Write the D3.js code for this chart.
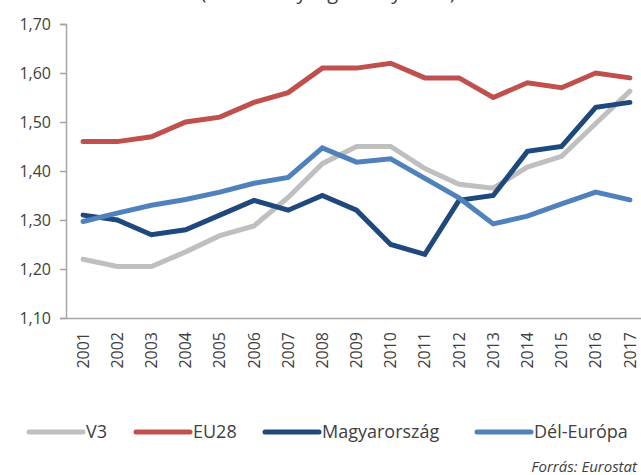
<!DOCTYPE html>
<html>
<head>
<meta charset="utf-8">
<script src="https://cdn.jsdelivr.net/npm/d3@7"></script>
<style>
  body { margin: 0; background: #fff; }
  svg { display: block; font-family: "Open Sans", sans-serif; }
</style>
</head>
<body>
<script>
const years = ["2001","2002","2003","2004","2005","2006","2007","2008","2009",
  "2010","2011","2012","2013","2014","2015","2016","2017"];
const yTicks = [1.1, 1.2, 1.3, 1.4, 1.5, 1.6, 1.7];

const v3 = [1.22, 1.205, 1.205, 1.235, 1.268, 1.288, 1.346, 1.415, 1.45,
  1.45, 1.405, 1.373, 1.365, 1.408, 1.43, 1.497, 1.563];
const eu28 = [1.46, 1.46, 1.47, 1.50, 1.51, 1.54, 1.56, 1.61, 1.61,
  1.62, 1.59, 1.59, 1.55, 1.58, 1.57, 1.60, 1.59];
const hungary = [1.31, 1.30, 1.27, 1.28, 1.31, 1.34, 1.32, 1.35, 1.32,
  1.25, 1.23, 1.34, 1.35, 1.44, 1.45, 1.53, 1.54];
const southEurope = [1.297, 1.314, 1.33, 1.342, 1.357, 1.375, 1.387, 1.447, 1.418,
  1.425, 1.385, 1.345, 1.292, 1.308, 1.333, 1.357, 1.341];

const seriesNames = ["V3", "EU28", "Magyarország", "Dél-Európa"];
const colors = ["#bfbfbf", "#c0504d", "#1f497d", "#4f81bd"];
const series = [v3, eu28, hungary, southEurope];

const width = 641;
const height = 475;
const textColor = "#404040";

const svg = d3.select("body")
  .append("svg")
  .attr("width", width)
  .attr("height", height);

// title, only its lower edge shows in the picture
svg.append("text")
  .attr("x", 328)
  .attr("y", -1)
  .attr("text-anchor", "middle")
  .attr("fill", textColor)
  .style("font-size", "20px")
  .text("(termékenységi arányszám)");

const xScale = d3.scaleBand()
  .domain(years)
  .range([66, 647]);

const yScale = d3.scaleLinear()
  .domain([1.1, 1.7])
  .range([318, 24]);

// y axis
const yAxis = d3.axisLeft(yScale)
  .tickValues(yTicks)
  .tickSize(6)
  .tickPadding(9)
  .tickFormat(d => d3.format(".2f")(d).replace(".", ","));

const yG = svg.append("g")
  .attr("transform", "translate(66,0)")
  .call(yAxis);
yG.selectAll("path, line").attr("stroke", "#a6a6a6").attr("stroke-width", 1.5);
yG.selectAll("text")
  .attr("fill", textColor)
  .style("font-size", "16px")
  .style("font-family", "'Open Sans', sans-serif");

// x axis
const xAxis = d3.axisBottom(xScale).tickSize(0).tickPadding(0);
const xG = svg.append("g")
  .attr("transform", "translate(0,318)")
  .call(xAxis);
xG.select(".domain").attr("stroke", "#a6a6a6").attr("stroke-width", 1.5);
xG.selectAll("text")
  .attr("fill", textColor)
  .style("font-size", "16px")
  .style("font-family", "'Open Sans', sans-serif")
  .attr("transform", "rotate(-90)")
  .attr("text-anchor", "end")
  .attr("x", -14)
  .attr("y", 0)
  .attr("dy", "0.35em");

// lines
const line = d3.line()
  .x((d, i) => xScale(years[i]) + xScale.bandwidth() / 2)
  .y(d => yScale(d));

series.forEach((s, k) => {
  svg.append("path")
    .datum(s)
    .attr("fill", "none")
    .attr("stroke", colors[k])
    .attr("stroke-width", 5)
    .attr("stroke-linejoin", "miter")
    .attr("stroke-linecap", "round")
    .attr("d", line);
});

// legend
const legendX = [29, 136, 265, 477];
const legend = svg.append("g").attr("transform", "translate(0,432)");
seriesNames.forEach((name, k) => {
  legend.append("line")
    .attr("x1", legendX[k])
    .attr("x2", legendX[k] + 54)
    .attr("stroke", colors[k])
    .attr("stroke-width", 5)
    .attr("stroke-linecap", "round");
  legend.append("text")
    .attr("x", legendX[k] + 57)
    .attr("dy", "0.35em")
    .attr("fill", textColor)
    .style("font-size", "18px")
    .text(name);
});

svg.append("text")
  .attr("x", 637)
  .attr("y", 472)
  .attr("text-anchor", "end")
  .attr("fill", textColor)
  .style("font-size", "15px")
  .style("font-style", "italic")
  .text("Forrás: Eurostat");
</script>
</body>
</html>
